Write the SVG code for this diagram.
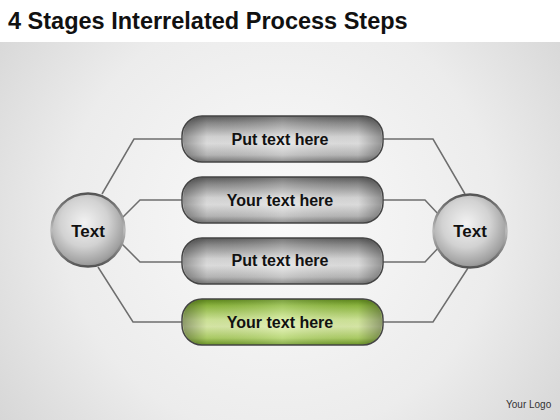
<svg xmlns="http://www.w3.org/2000/svg" width="560" height="420" viewBox="0 0 560 420">
<defs>
<radialGradient id="bg" cx="280" cy="220" r="360" gradientUnits="userSpaceOnUse">
<stop offset="0" stop-color="#fafafa"/>
<stop offset="0.6" stop-color="#ececec"/>
<stop offset="1" stop-color="#d4d4d4"/>
</radialGradient>
<linearGradient id="greyV" x1="0" y1="0" x2="0" y2="1">
<stop offset="0" stop-color="#5e5e5e"/>
<stop offset="0.15" stop-color="#8e8e8e"/>
<stop offset="0.45" stop-color="#dcdcdc"/>
<stop offset="0.6" stop-color="#e6e6e6"/>
<stop offset="0.85" stop-color="#bdbdbd"/>
<stop offset="1" stop-color="#7a7a7a"/>
</linearGradient>
<linearGradient id="greenV" x1="0" y1="0" x2="0" y2="1">
<stop offset="0" stop-color="#5f8a1c"/>
<stop offset="0.15" stop-color="#94bf45"/>
<stop offset="0.45" stop-color="#d5ec9c"/>
<stop offset="0.6" stop-color="#dff0ad"/>
<stop offset="0.85" stop-color="#b2d469"/>
<stop offset="1" stop-color="#6e9a28"/>
</linearGradient>
<linearGradient id="endsH" x1="0" y1="0" x2="1" y2="0">
<stop offset="0" stop-color="#000" stop-opacity="0.35"/>
<stop offset="0.12" stop-color="#000" stop-opacity="0.05"/>
<stop offset="0.5" stop-color="#fff" stop-opacity="0.15"/>
<stop offset="0.88" stop-color="#000" stop-opacity="0.05"/>
<stop offset="1" stop-color="#000" stop-opacity="0.35"/>
</linearGradient>
<radialGradient id="ball" cx="0.45" cy="0.4" r="0.65">
<stop offset="0" stop-color="#f2f2f2"/>
<stop offset="0.5" stop-color="#d2d2d2"/>
<stop offset="0.85" stop-color="#a0a0a0"/>
<stop offset="1" stop-color="#7c7c7c"/>
</radialGradient>
<linearGradient id="ring" x1="0" y1="0" x2="0" y2="1">
<stop offset="0" stop-color="#555"/>
<stop offset="0.5" stop-color="#bbb"/>
<stop offset="1" stop-color="#555"/>
</linearGradient>
</defs>
<style>
.title{font-family:"Liberation Sans",Arial,sans-serif;font-weight:bold;font-size:23.5px;fill:#111}
.lbl{font-family:"Liberation Sans",Arial,sans-serif;font-weight:bold;font-size:16px;fill:#111;text-anchor:middle}
.cl{font-family:"Liberation Sans",Arial,sans-serif;font-weight:bold;font-size:17px;fill:#111;text-anchor:middle}
.logo{font-family:"Liberation Sans",Arial,sans-serif;font-size:10px;fill:#333}
.conn{fill:none;stroke:#6e6e6e;stroke-width:1.5}
.pill{stroke:#444;stroke-width:1.5}
.gloss{fill:url(#endsH)}
.ringc{fill:none;stroke:url(#ring);stroke-width:2.5}
</style>
<rect width="560" height="420" fill="#ffffff"/>
<rect y="42" width="560" height="378" fill="url(#bg)"/>
<text class="title" x="8" y="29">4 Stages Interrelated Process Steps</text>

<g id="connectors">
<polyline class="conn" points="182,139 134,139 102,194"/>
<polyline class="conn" points="182,200 140,200 122,218"/>
<polyline class="conn" points="182,262 140,262 122,244"/>
<polyline class="conn" points="182,322 133,322 98,267"/>
<polyline class="conn" points="383,139 433,139 465,194"/>
<polyline class="conn" points="383,200 425,200 440,216"/>
<polyline class="conn" points="383,262 425,262 440,246"/>
<polyline class="conn" points="383,322 433,322 468,268"/>
</g>

<g id="circle-left">
<circle cx="88" cy="230" r="37" fill="url(#ball)"/>
<circle class="ringc" cx="88" cy="230" r="36.5"/>
<text class="cl" x="88" y="237">Text</text>
</g>
<g id="circle-right">
<circle cx="470" cy="231" r="37" fill="url(#ball)"/>
<circle class="ringc" cx="470" cy="231" r="36.5"/>
<text class="cl" x="470" y="237">Text</text>
</g>

<g id="step1">
<rect class="pill" x="182" y="116" width="201" height="46" rx="20" fill="url(#greyV)"/>
<rect class="gloss" x="183" y="117" width="199" height="44" rx="19"/>
<text class="lbl" x="280" y="145">Put text here</text>
</g>
<g id="step2">
<rect class="pill" x="182" y="177" width="201" height="46" rx="20" fill="url(#greyV)"/>
<rect class="gloss" x="183" y="178" width="199" height="44" rx="19"/>
<text class="lbl" x="280" y="206">Your text here</text>
</g>
<g id="step3">
<rect class="pill" x="182" y="238" width="201" height="46" rx="20" fill="url(#greyV)"/>
<rect class="gloss" x="183" y="239" width="199" height="44" rx="19"/>
<text class="lbl" x="280" y="266">Put text here</text>
</g>
<g id="step4">
<rect class="pill" x="182" y="299" width="201" height="46" rx="20" fill="url(#greenV)" stroke="#3f5e12"/>
<rect class="gloss" x="183" y="300" width="199" height="44" rx="19"/>
<text class="lbl" x="280" y="328">Your text here</text>
</g>

<text class="logo" x="506" y="408">Your Logo</text>
</svg>
